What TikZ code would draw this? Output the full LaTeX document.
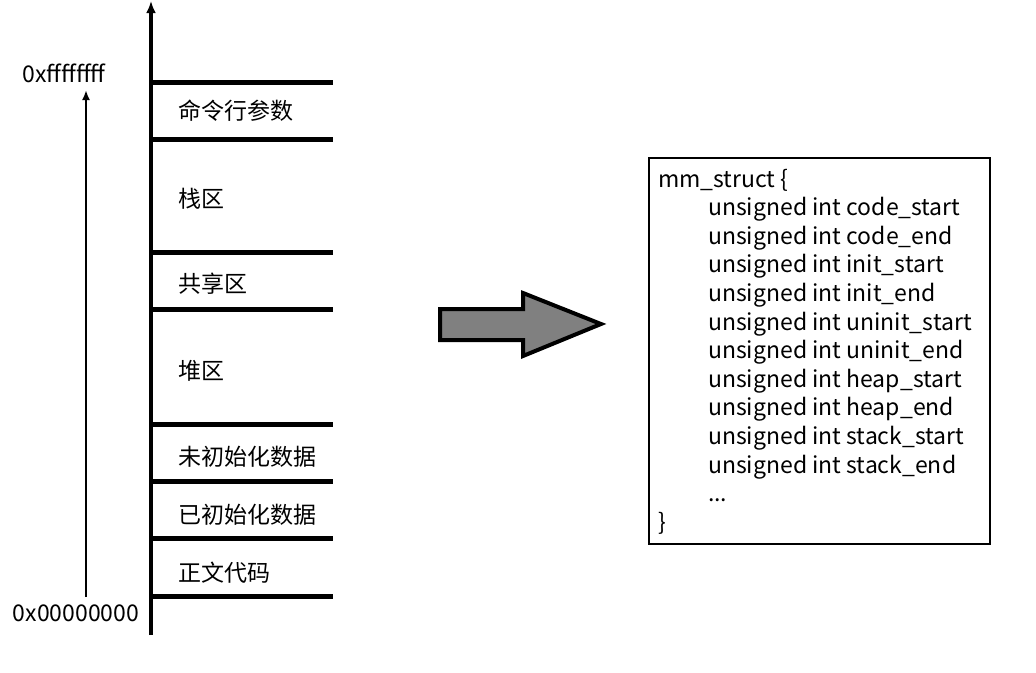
\documentclass[tikz,border=0pt]{standalone}
\usepackage{fontspec}
\setmainfont{Noto Sans CJK SC}
\usetikzlibrary{arrows.meta}

\begin{document}
\begin{tikzpicture}[x=1pt, y=-1pt,
        sepline/.style={line width=5pt},
        seglabel/.style={anchor=west, inner sep=0pt, font=\fontsize{23}{27}\selectfont},
        addrlabel/.style={inner sep=0pt, font=\fontsize{23}{27}\selectfont},
        fieldtext/.style={anchor=base west, inner sep=0pt, font=\fontsize{23}{27}\selectfont}]
        \useasboundingbox (0,0) rectangle (1036,672);

        \coordinate (axisbottom) at (151,635);
        \coordinate (axistop) at (151,1);
        \draw[line width=4pt, -{Latex[length=12pt,width=10pt]}] (axisbottom) -- (axistop);

        \coordinate (lowaddr) at (86,597);
        \coordinate (highaddr) at (86,90);
        \draw[line width=2.5pt, -{Latex[length=10pt,width=8pt]}] (lowaddr) -- (highaddr);

        \node[addrlabel] (hi) at (64,73) {0xffffffff};
        \node[addrlabel] (lo) at (76,613) {0x00000000};

        \foreach \y in {82,139,252,309,424,481,538,596}
                \draw[sepline] (151,\y) -- (333,\y);

        \foreach \y/\t [count=\i] in {111/命令行参数, 199/栈区, 284/共享区, 371/堆区,
                457/未初始化数据, 515/已初始化数据, 573/正文代码}
                \node[seglabel] (seg\i) at (178,\y) {\t};

        \draw[line width=4pt, fill=gray, line join=miter] (440,309) -- (523,309) -- (523,293)
                -- (601,324) -- (523,356) -- (523,340) -- (440,340) -- cycle;

        \node[draw, line width=2pt, minimum width=341pt, minimum height=386pt,
                anchor=north west, inner sep=0pt] (mmbox) at (648,157) {};

        \node[fieldtext] (head) at (658,187) {mm\_struct \{};
        \foreach \t [count=\i] in {code\_start, code\_end, init\_start, init\_end,
                uninit\_start, uninit\_end, heap\_start, heap\_end, stack\_start, stack\_end}
                \node[fieldtext] (field\i) at (708,187+28.6*\i) {unsigned int \t};
        \node[fieldtext] (dots) at (708,187+28.6*11) {...};
        \node[fieldtext] (tail) at (658,187+28.6*12) {\}};
\end{tikzpicture}
\end{document}
